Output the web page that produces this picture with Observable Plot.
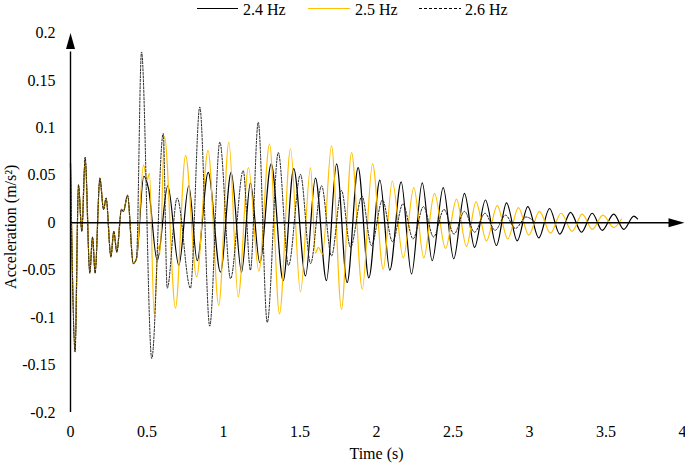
<!DOCTYPE html>
<html>
<head>
<meta charset="utf-8">
<script src="https://cdn.jsdelivr.net/npm/d3@7"></script>
<script src="https://cdn.jsdelivr.net/npm/@observablehq/plot@0.6"></script>
<style>
  body { margin: 0; background: #fff; }
  #legend { display: block; }
  svg, svg text { font-family: "Liberation Serif", "Times New Roman", Times, "DejaVu Serif", serif !important; }
</style>
</head>
<body>
<svg id="legend" width="685" height="24"></svg>
<div id="chart"></div>
<script>
// ---- data ----
const seriesNames = ["2.4 Hz", "2.5 Hz", "2.6 Hz"];
const seriesColors = ["#000000", "#FFC000", "#000000"];

const ticksX = [0, 0.5, 1, 1.5, 2, 2.5, 3, 3.5, 4];
const tickLabelsX = ["0", "0.5", "1", "1.5", "2", "2.5", "3", "3.5", "4"];
const ticksY = [-0.2, -0.15, -0.1, -0.05, 0, 0.05, 0.1, 0.15, 0.2];
const tickLabelsY = ["-0.2", "-0.15", "-0.1", "-0.05", "0", "0.05", "0.1", "0.15", "0.2"];

// shared initial transient (all three series coincide)
const commonT = [0, 0.03, 0.052, 0.074, 0.096, 0.126, 0.144, 0.161, 0.192, 0.216, 0.233, 0.264, 0.283, 0.303, 0.333, 0.346, 0.373, 0.41, 0.431];
const commonV = [0.063, -0.136, 0.040, -0.009, 0.069, -0.053, -0.015, -0.053, 0.047, 0.014, 0.026, -0.036, -0.009, -0.031, 0.014, 0.012, 0.029, -0.043, -0.038];

// 2.4 Hz
const t24 = [0.479, 0.51, 0.567, 0.636, 0.708, 0.773, 0.828, 0.900, 0.980, 1.050, 1.118, 1.176, 1.237, 1.312, 1.390, 1.459, 1.536, 1.601, 1.673, 1.739, 1.808, 1.880, 1.950, 2.022, 2.087, 2.161, 2.229, 2.299, 2.364, 2.436, 2.505, 2.575, 2.641, 2.712, 2.784, 2.850, 2.920, 2.989, 3.061, 3.131, 3.198, 3.268, 3.340, 3.410, 3.475, 3.551, 3.616, 3.682, 3.706];
const v24 = [0.049, 0.036, -0.040, 0.039, -0.045, 0.039, -0.040, 0.053, -0.052, 0.053, -0.052, 0.042, -0.042, 0.062, -0.061, 0.057, -0.056, 0.047, -0.061, 0.062, -0.063, 0.058, -0.058, 0.045, -0.050, 0.043, -0.054, 0.042, -0.040, 0.037, -0.038, 0.031, -0.026, 0.024, -0.024, 0.021, -0.019, 0.017, -0.016, 0.015, -0.012, 0.011, -0.010, 0.010, -0.008, 0.009, -0.007, 0.007, 0.004];

// 2.5 Hz
const t25 = [0.477, 0.500, 0.516, 0.547, 0.573, 0.585, 0.614, 0.686, 0.752, 0.824, 0.899, 0.969, 1.035, 1.096, 1.163, 1.231, 1.301, 1.366, 1.438, 1.503, 1.569, 1.601, 1.620, 1.647, 1.706, 1.771, 1.837, 1.907, 1.974, 2.044, 2.103, 2.175, 2.244, 2.309, 2.379, 2.451, 2.523, 2.588, 2.650, 2.719, 2.789, 2.858, 2.928, 2.995, 3.065, 3.137, 3.206, 3.279, 3.344, 3.410, 3.480, 3.551, 3.601];
const v25 = [0.061, 0.045, 0.052, -0.097, -0.025, -0.032, 0.091, -0.090, 0.071, -0.057, 0.076, -0.087, 0.085, -0.078, 0.058, -0.051, 0.083, -0.096, 0.078, -0.073, 0.058, -0.032, -0.026, -0.033, 0.081, -0.091, 0.074, -0.070, 0.062, -0.049, 0.044, -0.037, 0.037, -0.037, 0.031, -0.027, 0.025, -0.025, 0.022, -0.019, 0.018, -0.017, 0.016, -0.013, 0.012, -0.011, 0.010, -0.009, 0.009, -0.007, 0.008, -0.005, 0.004];

// 2.6 Hz
const t26 = [0.464, 0.531, 0.606, 0.632, 0.697, 0.784, 0.845, 0.910, 0.976, 1.046, 1.129, 1.176, 1.227, 1.286, 1.358, 1.425, 1.503, 1.569, 1.641, 1.706, 1.771, 1.830, 1.905, 1.967, 2.039, 2.105, 2.173, 2.239, 2.307, 2.373, 2.441, 2.507, 2.575, 2.641, 2.709, 2.775, 2.843, 2.908, 2.977, 3.039];
const v26 = [0.180, -0.143, 0.094, -0.069, 0.026, -0.069, 0.122, -0.109, 0.085, -0.059, 0.055, -0.050, 0.106, -0.105, 0.074, -0.045, 0.051, -0.043, 0.039, -0.035, 0.034, -0.026, 0.028, -0.024, 0.024, -0.020, 0.020, -0.017, 0.017, -0.015, 0.014, -0.012, 0.012, -0.010, 0.010, -0.008, 0.008, -0.006, 0.006, 0.000];

// ---- build tables ----
function build(ts, vs) {
  const T = commonT.concat(ts), V = commonV.concat(vs);
  return T.map((t, i) => ({t, v: V[i]}));
}
const s24 = build(t24, v24);
const s25 = build(t25, v25);
const s26 = build(t26, v26);

// arrowhead symbol: tip at the origin, pointing up
const arrowHead = {
  draw(ctx) { ctx.moveTo(0, 0); ctx.lineTo(-4.5, 16); ctx.lineTo(4.5, 16); ctx.closePath(); }
};

const serif = "'Liberation Serif', 'Times New Roman', Times, 'DejaVu Serif', serif";

const chart = Plot.plot({
  width: 685,
  height: 442,
  marginLeft: 70,
  marginRight: 3,
  marginTop: 8.5,
  marginBottom: 54,
  style: {fontFamily: serif, fontSize: "16px", background: "#fff", color: "#000"},
  x: {domain: [0, 4]},
  y: {domain: [-0.2, 0.2]},
  marks: [
    Plot.line(s24, {x: "t", y: "v", stroke: seriesColors[0], strokeWidth: 1.2, curve: "monotone-x"}),
    Plot.line(s25, {x: "t", y: "v", stroke: seriesColors[1], strokeWidth: 1.2, curve: "monotone-x"}),
    Plot.line(s26, {x: "t", y: "v", stroke: "#222", strokeWidth: 1, strokeDasharray: "2,1.6", curve: "monotone-x"}),
    Plot.ruleX([0], {y1: -0.2, y2: 0.18, stroke: "#000", strokeWidth: 1.4}),
    Plot.ruleY([0], {x1: 0, x2: 3.96, stroke: "#000", strokeWidth: 1.4}),
    Plot.dot([{x: 0, y: 0.2}], {x: "x", y: "y", symbol: arrowHead, fill: "#000", stroke: null}),
    Plot.dot([{x: 4.013, y: 0}], {x: "x", y: "y", symbol: arrowHead, fill: "#000", stroke: null, rotate: 90}),
    Plot.axisY(ticksY, {tickSize: 0, tickPadding: 15, label: null, tickFormat: (d) => tickLabelsY[ticksY.indexOf(d)], fontSize: 16, fontFamily: serif}),
    Plot.axisX(ticksX, {tickSize: 0, tickPadding: 13, label: null, tickFormat: (d) => tickLabelsX[ticksX.indexOf(d)], fontSize: 16, fontFamily: serif}),
    Plot.text(["Time (s)"], {frameAnchor: "bottom", dy: 46, text: d => d, fontSize: 16, fontFamily: serif}),
    Plot.text(["Acceleration (m/s²)"], {frameAnchor: "left", textAnchor: "middle", dx: -60, dy: 4, rotate: -90, text: d => d, fontSize: 16, fontFamily: serif})
  ]
});
document.getElementById("chart").appendChild(chart);

// ---- legend (above the chart) ----
const leg = d3.select("#legend");
const legItems = [
  {x1: 197, x2: 238, tx: 243, dash: null},
  {x1: 308, x2: 350, tx: 355, dash: null},
  {x1: 419, x2: 461, tx: 465, dash: "3,2"}
];
legItems.forEach((it, i) => {
  leg.append("line").attr("x1", it.x1).attr("x2", it.x2).attr("y1", 8.5).attr("y2", 8.5)
    .attr("stroke", seriesColors[i]).attr("stroke-width", 1.2)
    .attr("stroke-dasharray", it.dash);
  leg.append("text").attr("x", it.tx).attr("y", 15).attr("font-size", 16)
    .attr("font-family", serif).attr("fill", "#000").text(seriesNames[i]);
});
</script>
</body>
</html>
